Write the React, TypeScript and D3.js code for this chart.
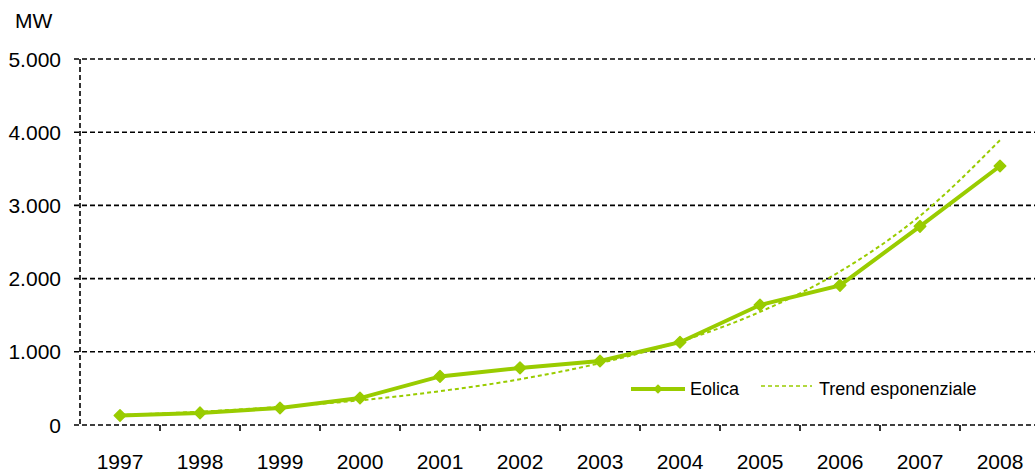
import { useMemo } from "react";
import * as d3 from "d3";

const WIDTH = 1035;
const HEIGHT = 472;
const MARGIN = { top: 59, right: -5, bottom: 47, left: 80 };

const years = ["1997", "1998", "1999", "2000", "2001", "2002", "2003", "2004", "2005", "2006", "2007", "2008"];
const eolica = [130, 165, 232, 368, 664, 780, 874, 1131, 1639, 1908, 2714, 3538];
const trend = [135, 182, 248, 337, 462, 625, 845, 1140, 1545, 2097, 2857, 3891];
const yTicks = [0, 1000, 2000, 3000, 4000, 5000];

const GREEN = "#99CC00";
const FONT = "'Liberation Sans', Arial, sans-serif";

const formatTick = (v: number) => d3.format(",")(v).replace(/,/g, ".");

const App = () => {
  const xScale = useMemo(
    () => d3.scaleBand<string>().domain(years).range([MARGIN.left, WIDTH - MARGIN.right]),
    []
  );
  const yScale = useMemo(
    () => d3.scaleLinear().domain([0, 5000]).range([HEIGHT - MARGIN.bottom, MARGIN.top]),
    []
  );
  const cx = (y: string) => (xScale(y) ?? 0) + xScale.bandwidth() / 2;

  const line = d3
    .line<number>()
    .x((_, i) => cx(years[i]))
    .y((d) => yScale(d));
  const trendLine = d3
    .line<number>()
    .x((_, i) => cx(years[i]))
    .y((d) => yScale(d))
    .curve(d3.curveMonotoneX);

  const diamond = d3.symbol(d3.symbolDiamond2, 85)() ?? "";
  const legendY = 389;

  return (
    <div style={{ position: "fixed", left: 0, top: 0 }}>
      <svg width={WIDTH} height={HEIGHT} style={{ fontFamily: FONT, display: "block" }}>
        <rect width={WIDTH} height={HEIGHT} fill="white" />

        {/* Gridlines */}
        {yTicks.map((t) => (
          <g key={t}>
            <line
              x1={MARGIN.left - 6}
              x2={WIDTH}
              y1={yScale(t)}
              y2={yScale(t)}
              stroke="#000"
              strokeWidth={1.6}
              strokeDasharray="5 3"
            />
            <text
              x={61}
              y={yScale(t)}
              dy="0.36em"
              textAnchor="end"
              fontSize={21}
              fill="#000"
            >
              {formatTick(t)}
            </text>
          </g>
        ))}

        {/* Y axis */}
        <line
          x1={MARGIN.left}
          x2={MARGIN.left}
          y1={yScale(5000)}
          y2={yScale(0)}
          stroke="#000"
          strokeWidth={1.6}
          strokeDasharray="5 3"
        />

        {/* X ticks */}
        {years.slice(1).map((y) => (
          <line
            key={y}
            x1={xScale(y)}
            x2={xScale(y)}
            y1={yScale(0)}
            y2={yScale(0) + 6}
            stroke="#000"
            strokeWidth={1.6}
          />
        ))}
        {years.map((y) => (
          <text key={y} x={cx(y)} y={469} textAnchor="middle" fontSize={21} fill="#000">
            {y}
          </text>
        ))}

        <text x={15} y={28} fontSize={21} fill="#000">
          MW
        </text>

        {/* Trend */}
        <path
          d={trendLine(trend) ?? ""}
          fill="none"
          stroke={GREEN}
          strokeWidth={2}
          strokeDasharray="4 3"
        />

        {/* Eolica */}
        <path d={line(eolica) ?? ""} fill="none" stroke={GREEN} strokeWidth={4} />
        {eolica.map((v, i) => (
          <path
            key={i}
            d={diamond}
            transform={`translate(${cx(years[i])},${yScale(v)})`}
            fill={GREEN}
            stroke={GREEN}
            strokeWidth={1.5}
            strokeLinejoin="round"
          />
        ))}

        {/* Legend */}
        <line x1={631} x2={685} y1={legendY} y2={legendY} stroke={GREEN} strokeWidth={4} />
        <path d={d3.symbol(d3.symbolDiamond2, 60)() ?? ""} transform={`translate(658,${legendY})`} fill={GREEN} />
        <text x={690} y={legendY} dy="0.36em" fontSize={18} fill="#000">
          Eolica
        </text>
        <line
          x1={761}
          x2={812}
          y1={legendY - 3}
          y2={legendY - 3}
          stroke={GREEN}
          strokeWidth={1.5}
          strokeDasharray="4 3"
        />
        <text x={819} y={legendY} dy="0.36em" fontSize={18} fill="#000">
          Trend esponenziale
        </text>
      </svg>
    </div>
  );
};

export default App;
